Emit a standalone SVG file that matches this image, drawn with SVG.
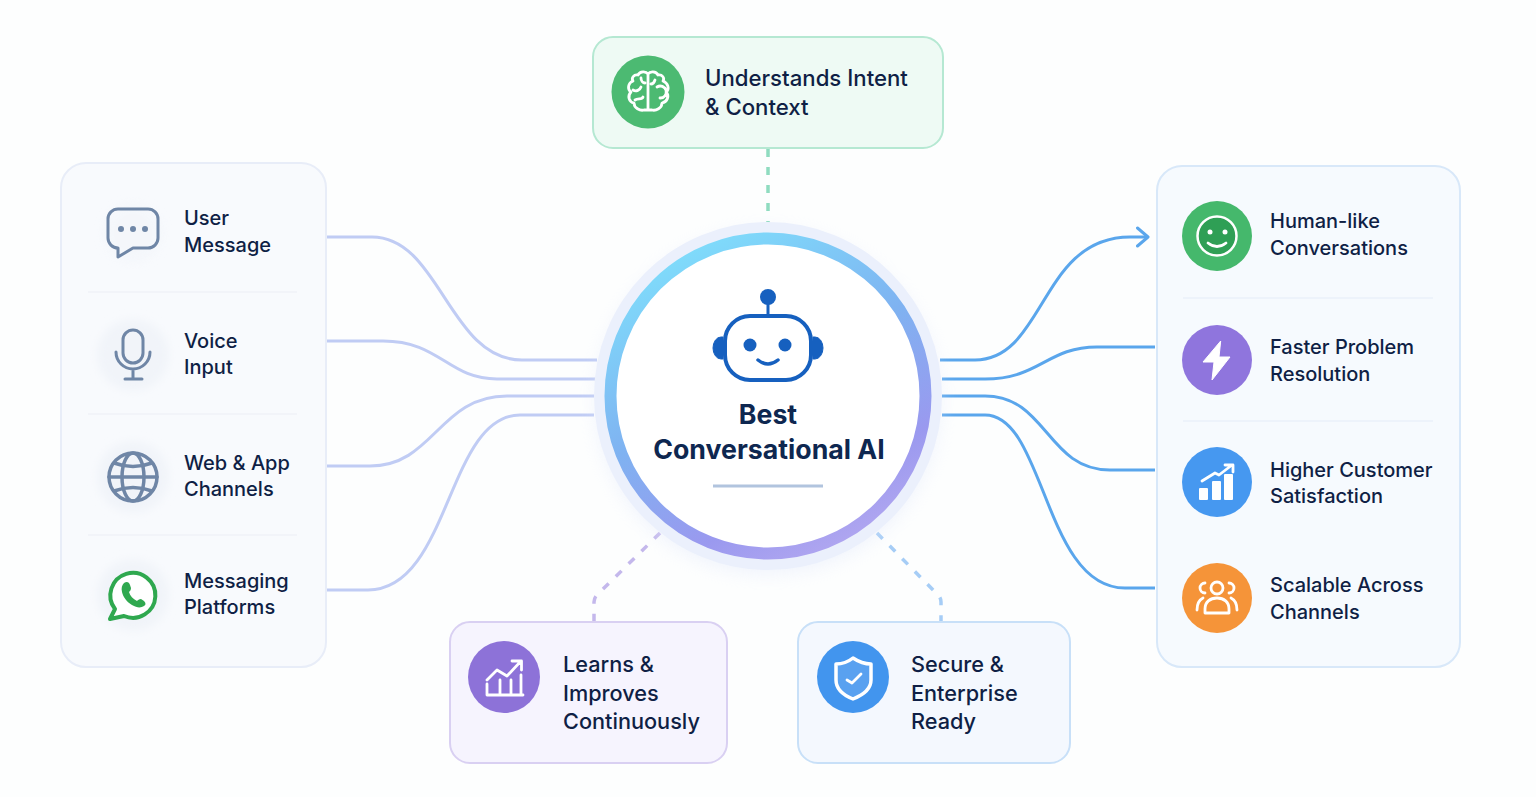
<svg xmlns="http://www.w3.org/2000/svg" width="1536" height="797" viewBox="0 0 1536 797">
<defs>
<linearGradient id="ring" x1="0.2" y1="0.05" x2="0.7" y2="1"><stop offset="0" stop-color="#7fdcfb"/><stop offset="0.45" stop-color="#7fb2f1"/><stop offset="0.8" stop-color="#9a99ef"/><stop offset="1" stop-color="#b0a6f0"/></linearGradient>
<filter id="soft" x="-20%" y="-20%" width="140%" height="140%"><feGaussianBlur stdDeviation="9"/></filter>
<filter id="soft2" x="-20%" y="-20%" width="140%" height="140%"><feGaussianBlur stdDeviation="4"/></filter>
<marker id="arr" markerUnits="userSpaceOnUse" markerWidth="16" markerHeight="24" refX="12" refY="11" orient="auto"><path d="M1.500 2L12 11L1.500 20" fill="none" stroke="#5aa6ec" stroke-width="3" stroke-linecap="round" stroke-linejoin="round"/></marker>
</defs>
<style>
text{font-family:Inter,"Liberation Sans",sans-serif;fill:#0f1f45}
.l{font-size:20px;font-weight:500}
.b{font-size:21.700px;font-weight:500}
.t{font-size:22.200px;font-weight:500}
.c{font-size:26.700px;font-weight:700;fill:#0e2750;text-anchor:middle}
.in{fill:none;stroke:#c0ccf4;stroke-width:3}
.out{fill:none;stroke:#5aa6ec;stroke-width:3}
.dash{fill:none;stroke-width:3.500;stroke-dasharray:8 10;stroke-linecap:butt}
.sep{stroke-width:1.500;fill:none}
.g{fill:none;stroke:#6f86a6;stroke-width:3;stroke-linecap:round;stroke-linejoin:round}
.w{fill:none;stroke:#fff;stroke-width:2.800;stroke-linecap:round;stroke-linejoin:round}
.back{fill:#f1f4f9;filter:url(#soft2)}
</style>
<rect width="1536" height="797" fill="#fdfefe"/>

<g id="connectors">
<path class="in" d="M327 237H372C440 237 449 360 522 360H597"/>
<path class="in" d="M327 341H383C440 341 448 379 497 379H595"/>
<path class="in" d="M327 466H370C434 466 439 396 507 396H594"/>
<path class="in" d="M327 590H368C450 590 447 415 520 415H594"/>
<path class="out" d="M940 360H975C1045 360 1040 237 1130 237H1148" marker-end="url(#arr)"/>
<path class="out" d="M942 379H985C1040 379 1047 347 1097 347H1155"/>
<path class="out" d="M942 396H985C1047 396 1047 470 1110 470H1155"/>
<path class="out" d="M942 415H985C1045 415 1044 588 1125 588H1155"/>
<path class="dash" stroke="#8fdcc0" d="M768 149V223"/>
<path class="dash" stroke="#c4b8ec" d="M660 533L597 595Q594 598 594 602V622"/>
<path class="dash" stroke="#a6cdf6" d="M877 533L938 595Q941 598 941 602V622"/>
</g>

<g id="hub">
<circle cx="768" cy="402" r="172" fill="#dfe6fa" opacity=".45" filter="url(#soft)"/>
<circle cx="768" cy="396" r="174" fill="#ebf0fc"/>
<circle cx="768" cy="396" r="157.500" fill="#fff" stroke="url(#ring)" stroke-width="12"/>
<g fill="#1660bf">
<circle cx="768" cy="297" r="8"/>
<rect x="766.500" y="300" width="3" height="16"/>
<path d="M723 337H721A8 11 0 0 0 721 359H723Z" stroke="#1660bf" stroke-width="1"/>
<path d="M813 337H815A8 11 0 0 1 815 359H813Z" stroke="#1660bf" stroke-width="1"/>
</g>
<rect x="725" y="316" width="86" height="64" rx="25" fill="#fff" stroke="#1660bf" stroke-width="4"/>
<circle cx="750" cy="345" r="6.500" fill="#1660bf"/><circle cx="785" cy="345" r="6.500" fill="#1660bf"/>
<path d="M758 360Q768 368 778 360" fill="none" stroke="#1660bf" stroke-width="3.500" stroke-linecap="round"/>
<text class="c" x="768" y="424">Best</text>
<text class="c" x="769" y="459">Conversational AI</text>
<path d="M713 486H823" stroke="#b1c4de" stroke-width="3"/>
</g>

<g id="input-panel">
<rect x="61" y="163" width="265" height="504" rx="25" fill="#f8fafd" stroke="#e8edf8" stroke-width="2"/>
<path class="sep" stroke="#eff2f8" d="M88 292H297M88 414H297M88 535H297"/>
</g>
<g id="user-message">
<circle class="back" cx="133" cy="233" r="30" opacity=".5"/>
<path class="g" d="M118 209H148A10 10 0 0 1 158 219V238A10 10 0 0 1 148 248H133L118 257V248A10 10 0 0 1 108 238V219A10 10 0 0 1 118 209Z"/>
<g fill="#6f86a6"><circle cx="121" cy="229" r="3"/><circle cx="133" cy="229" r="3"/><circle cx="145" cy="229" r="3"/></g>
<text class="l" x="184" y="225">User</text><text class="l" x="184" y="252">Message</text>
</g>
<g id="voice-input">
<circle class="back" cx="133" cy="355" r="36"/>
<rect x="123" y="330" width="20" height="33" rx="10" class="g"/>
<path class="g" d="M116 352A17 17 0 0 0 150 352M133 369V379M125 379H142"/>
<text class="l" x="184" y="348">Voice</text><text class="l" x="184" y="374">Input</text>
</g>
<g id="web-app">
<circle class="back" cx="133" cy="477" r="36"/>
<g class="g" style="stroke-width:3.500">
<circle cx="133" cy="477" r="24"/><ellipse cx="133" cy="477" rx="11" ry="24"/>
<path d="M109 477H157M114 463Q133 470 152 463M114 491Q133 484 152 491"/>
</g>
<text class="l" x="184" y="470">Web &amp; App</text><text class="l" x="184" y="496">Channels</text>
</g>
<g id="messaging">
<circle class="back" cx="133" cy="595" r="36"/>
<path d="M115 609A22.500 22.500 0 1 1 124 616L110 619Z" fill="#fff" stroke="#2fa84f" stroke-width="4" stroke-linejoin="round"/>
<path d="M124 583C127 581 129 582 130 585L131 588C131 590 130 591 129 592C130 596 133 599 137 601C138 600 139 599 141 599L144 601C146 603 146 605 144 606C141 608 137 608 132 605C127 602 123 597 122 592C121 588 122 585 124 583Z" fill="#2fa84f"/>
<text class="l" x="184" y="588">Messaging</text><text class="l" x="184" y="614">Platforms</text>
</g>

<g id="outcome-panel">
<rect x="1157" y="166" width="303" height="501" rx="25" fill="#f6fafe" stroke="#d8e8f9" stroke-width="2"/>
<path class="sep" stroke="#eaf1fa" d="M1183 298H1433M1183 421H1433"/>
</g>
<g id="human-like">
<circle cx="1217" cy="236" r="35" fill="#45b86c"/>
<circle cx="1217" cy="236" r="19.500" fill="#2f9f55" stroke="#fff" stroke-width="2.500"/>
<circle cx="1210" cy="232" r="2.500" fill="#fff"/><circle cx="1225" cy="232" r="2.500" fill="#fff"/>
<path class="w" d="M1208 243Q1217 250 1226 243"/>
<text class="l" x="1270" y="228">Human-like</text><text class="l" x="1270" y="255">Conversations</text>
</g>
<g id="faster">
<circle cx="1217" cy="360" r="35" fill="#8f75dd"/>
<path d="M1220.700 341L1203 362H1214L1212 380L1230 357H1219Z" fill="#fff" stroke="#fff" stroke-linejoin="round"/>
<text class="l" x="1270" y="354">Faster Problem</text><text class="l" x="1270" y="381">Resolution</text>
</g>
<g id="higher">
<circle cx="1217" cy="482" r="35" fill="#4698f0"/>
<g fill="#fff"><rect x="1199" y="488" width="9" height="12" rx="1"/><rect x="1212" y="481" width="9" height="19" rx="1"/><rect x="1224" y="474" width="9" height="26" rx="1"/></g>
<path class="w" d="M1202 481L1215 473L1219 475L1232 465M1225 465H1233V472"/>
<text class="l" x="1270" y="477">Higher Customer</text><text class="l" x="1270" y="503">Satisfaction</text>
</g>
<g id="scalable">
<circle cx="1217" cy="598" r="35" fill="#f59439"/>
<circle cx="1217" cy="588" r="6" class="w"/>
<path class="w" d="M1205 613V609C1205 602 1210 598 1217 598C1224 598 1229 602 1229 609V613Z"/>
<path class="w" d="M1205 583A5 5 0 0 0 1205 593M1229 583A5 5 0 0 1 1229 593M1197 610C1197 604 1199 600 1203 598M1237 610C1237 604 1235 600 1231 598"/>
<text class="l" x="1270" y="592">Scalable Across</text><text class="l" x="1270" y="619">Channels</text>
</g>

<g id="understands">
<rect x="593" y="37" width="350" height="111" rx="20" fill="#eefaf4" stroke="#b5e8d2" stroke-width="2"/>
<circle cx="648" cy="92" r="36.500" fill="#4cba72"/>
<path class="w" d="M648 74V110M648 74C646 71 640 71 638 75C634 74 631 78 633 81C628 83 627 89 631 92C627 96 629 102 634 103C634 108 640 111 644 110L648 110M648 74C650 71 656 71 658 75C662 74 665 78 663 81C668 83 670 89 666 92C670 96 667 102 662 103C662 108 656 111 652 110L648 110M633 90C636 92 640 90 641 87M635 100C638 98 642 100 643 97M641 78C641 81 643 83 645 83M655 80C654 83 652 84 651 84M660 98A6 6 0 1 0 657 87"/>
<text class="t" x="705" y="86">Understands Intent</text><text class="t" x="705" y="115">&amp; Context</text>
</g>

<g id="learns">
<rect x="450" y="622" width="277" height="141" rx="20" fill="#f6f4fe" stroke="#d9d0f2" stroke-width="2"/>
<circle cx="504" cy="677" r="36" fill="#8d72d8"/>
<path class="w" d="M487 680L497 670L507 676L521 661M512 661H521.500V670M487 684V695H523M500 680V695M511 680V695M521 675V695"/>
<text class="b" x="563" y="672">Learns &amp;</text><text class="b" x="563" y="701">Improves</text><text class="b" x="563" y="729">Continuously</text>
</g>

<g id="secure">
<rect x="798" y="622" width="272" height="141" rx="20" fill="#f4f8fe" stroke="#c8e0f8" stroke-width="2"/>
<circle cx="853" cy="677" r="36" fill="#4295ee"/>
<path d="M853 658C859 662 865 664 871 664V680C871 689 863 695 853 699C843 695 836 689 836 680V664C842 664 848 662 853 658Z" fill="#fff" fill-opacity=".12" stroke="#fff" stroke-width="3.500" stroke-linejoin="round"/>
<path class="w" d="M847 680L852 683L861 674"/>
<text class="b" x="911" y="672">Secure &amp;</text><text class="b" x="911" y="701">Enterprise</text><text class="b" x="911" y="729">Ready</text>
</g>
</svg>
